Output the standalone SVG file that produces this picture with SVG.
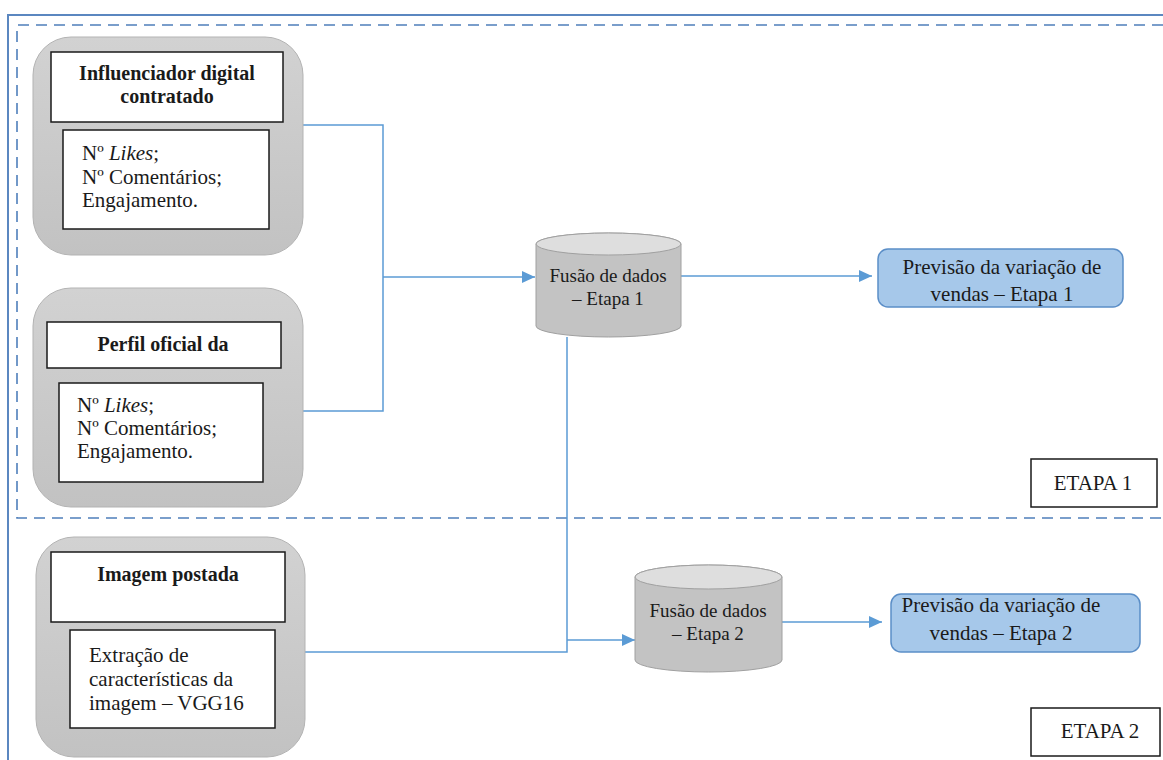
<svg xmlns="http://www.w3.org/2000/svg" width="1163" height="760" viewBox="0 0 1163 760">
<style>
text{font-family:"Liberation Serif","Times New Roman",serif;fill:#1a1a1a}
.hd{font-size:20px;font-weight:bold;text-anchor:middle}
.bd{font-size:21px}
.cy{font-size:19px;text-anchor:middle}
.bl{font-size:21px;text-anchor:middle}
.outer{fill:url(#gg);stroke:#b3b3b3;stroke-width:1}
.wb{fill:#fff;stroke:#1a1a1a;stroke-width:1.5}
.cyl{fill:#c3c3c3;stroke:#a0a0a0;stroke-width:1}
.cyltop{fill:#dedede;stroke:#a0a0a0;stroke-width:1}
.blue{fill:#a6c8ea;stroke:#5b8ec7;stroke-width:1.5}
.conn{fill:none;stroke:#5b9bd5;stroke-width:1.5}
.arr{marker-end:url(#ah)}
.frame{fill:none;stroke:#5b87c0;stroke-width:2}
.dash{fill:none;stroke:#4f7fbb;stroke-width:1.6;stroke-dasharray:11 7}
.etapa{fill:#fff;stroke:#1a1a1a;stroke-width:1.5}
</style>
<defs>
<linearGradient id="gg" x1="0" y1="0" x2="0" y2="1">
<stop offset="0" stop-color="#d2d2d2"/>
<stop offset="1" stop-color="#c2c2c2"/>
</linearGradient>
<marker id="ah" markerUnits="userSpaceOnUse" viewBox="0 0 13 12" refX="13" refY="6" markerWidth="13" markerHeight="12" orient="auto">
<path d="M0,0 L13,6 L0,12 z" fill="#5b9bd5"/>
</marker>
</defs>
<rect width="1163" height="760" fill="#fff"/>
<path class="frame" d="M8,760 V15 H1163"/>
<path class="dash" d="M1163,25 H17 V518 H1163"/>

<g id="connectors">
<path class="conn" d="M303,125 H383 V411 H303"/>
<path class="conn arr" d="M383,277 H535"/>
<path class="conn arr" d="M681,276 H872"/>
<path class="conn" d="M567,337 V652 H305"/>
<path class="conn arr" d="M567,640 H635"/>
<path class="conn arr" d="M782,622 H882"/>
</g>

<g id="node-influenciador">
<rect class="outer" x="33" y="37" width="270" height="218" rx="38"/>
<rect class="wb" x="51" y="52" width="232" height="70"/>
<text class="hd" x="167" y="80">Influenciador digital</text>
<text class="hd" x="167" y="103">contratado</text>
<rect class="wb" x="63" y="130" width="206" height="99"/>
<text class="bd" x="82" y="160">Nº <tspan font-style="italic">Likes</tspan>;</text>
<text class="bd" x="82" y="184">Nº Comentários;</text>
<text class="bd" x="82" y="207">Engajamento.</text>
</g>

<g id="node-perfil">
<rect class="outer" x="33" y="288" width="270" height="219" rx="38"/>
<rect class="wb" x="47" y="322" width="234" height="46"/>
<text class="hd" x="163" y="351">Perfil oficial da</text>
<rect class="wb" x="59" y="383" width="204" height="99"/>
<text class="bd" x="77" y="412">Nº <tspan font-style="italic">Likes</tspan>;</text>
<text class="bd" x="77" y="435">Nº Comentários;</text>
<text class="bd" x="77" y="458">Engajamento.</text>
</g>

<g id="node-imagem">
<rect class="outer" x="36" y="537" width="269" height="220" rx="38"/>
<rect class="wb" x="51" y="552" width="234" height="70"/>
<text class="hd" x="168" y="581">Imagem postada</text>
<rect class="wb" x="70" y="630" width="205" height="98"/>
<text class="bd" x="89" y="662">Extração de</text>
<text class="bd" x="89" y="686">características da</text>
<text class="bd" x="89" y="710">imagem – VGG16</text>
</g>

<g id="node-fusao1">
<path class="cyl" d="M536,244 A72.5,11 0 0 1 681,244 V326 A72.5,11 0 0 1 536,326 Z"/>
<ellipse class="cyltop" cx="608.5" cy="244" rx="72.5" ry="11"/>
<text class="cy" x="608" y="282">Fusão de dados</text>
<text class="cy" x="608" y="305">– Etapa 1</text>
</g>

<g id="node-fusao2">
<path class="cyl" d="M635,577 A73.5,12 0 0 1 782,577 V660 A73.5,12 0 0 1 635,660 Z"/>
<ellipse class="cyltop" cx="708.5" cy="577" rx="73.5" ry="12"/>
<text class="cy" x="708" y="617">Fusão de dados</text>
<text class="cy" x="708" y="640">– Etapa 2</text>
</g>

<g id="node-previsao1">
<rect class="blue" x="878" y="249" width="245" height="58" rx="10"/>
<text class="bl" x="1002" y="274">Previsão da variação de</text>
<text class="bl" x="1002" y="301">vendas – Etapa 1</text>
</g>

<g id="node-previsao2">
<rect class="blue" x="891" y="594" width="249" height="58" rx="10"/>
<text class="bl" x="1001" y="612">Previsão da variação de</text>
<text class="bl" x="1001" y="640">vendas – Etapa 2</text>
</g>

<g id="label-etapa1">
<rect class="etapa" x="1031" y="459" width="126" height="48"/>
<text class="bl" x="1093" y="490">ETAPA 1</text>
</g>

<g id="label-etapa2">
<rect class="etapa" x="1031" y="708" width="129" height="48"/>
<text class="bl" x="1100" y="738">ETAPA 2</text>
</g>
</svg>
